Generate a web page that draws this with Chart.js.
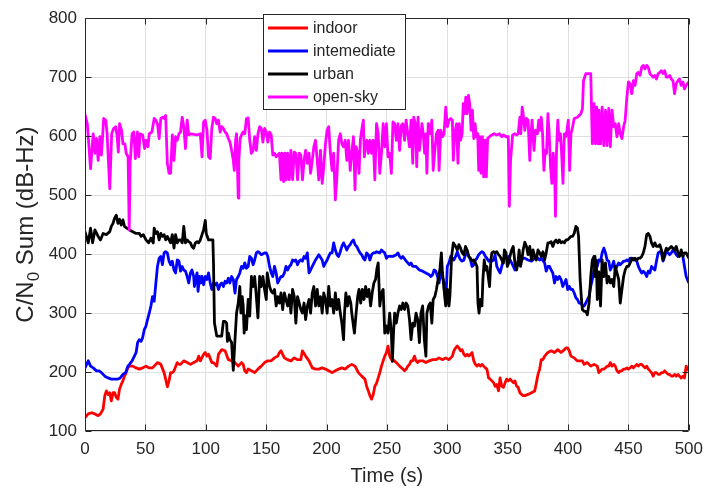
<!DOCTYPE html>
<html>
<head>
<meta charset="utf-8">
<script src="https://cdn.jsdelivr.net/npm/chart.js@4.4.1/dist/chart.umd.min.js"></script>
<style>
  html, body { margin: 0; padding: 0; background: #fff; }
  #wrap { width: 711px; height: 488px; }
</style>
</head>
<body>
<div id="wrap"><canvas id="cn0" width="711" height="488"></canvas></div>
<script>
// --- 1. Data: [time (s), C/N0 sum (dB-Hz)] per environment ---
const indoor = [
  [0,123],[2.7,129],[5.5,131],[8.2,129],[10.9,126],[12.8,129],[15,137],[16.4,160],[17.7,168],[19.1,162],
  [20.5,165],[21.8,151],[23.2,165],[24.5,165],[25.9,157],[27.3,154],[28.6,171],[30,179],[31.4,185],[32.7,193],
  [34.1,199],[35.5,207],[36.8,210],[39.6,210],[42.3,207],[45,205],[47.7,207],[50.5,210],[53.2,207],[55.9,207],
  [60,216],[62.8,213],[65.5,199],[66.8,188],[68.2,175],[69.6,185],[70.9,199],[72.3,199],[73.7,202],[76.4,216],
  [77.8,213],[79.1,213],[81.8,219],[84.6,216],[87.3,213],[90,216],[92.8,219],[94.1,227],[95.5,219],[98.2,230],
  [99.6,233],[101,227],[102.3,230],[105,216],[106.4,216],[107.8,213],[109.1,210],[110.5,230],[113.2,238],[116,236],
  [118.7,221],[121.4,219],[124.2,216],[126.9,210],[129.6,216],[131,213],[132.3,202],[133.7,199],[135.1,205],[137.8,202],
  [140.5,199],[143.2,205],[146,210],[148.7,216],[151.4,219],[154.2,219],[156.9,224],[159.6,227],[161,233],[162.3,236],
  [163.7,230],[165.1,224],[167.8,221],[170.5,219],[173.3,224],[176,221],[178.7,221],
  [180,236],[182.7,227],[185.5,219],[188.2,207],[190.9,205],[193.6,205],[196.4,207],[199.1,205],[201.8,202],[204.6,199],
  [207.3,202],[210,205],[212.7,207],[215.5,205],[218.2,210],[220.9,213],[223.6,210],[226.4,199],[229.1,193],[231.8,188],
  [233.2,176],[234.6,168],[235.9,160],[237.3,154],[238.7,162],[240,176],
  [241.4,181],[242.8,190],[244.1,199],[245.5,210],[246.9,219],[248.2,227],[249.6,233],[250.9,244],[252.3,227],[253.7,221],
  [255,221],[257.8,216],[260.5,210],[263.2,205],[264.6,202],[266,205],[267.3,210],[268.7,213],[270,219],[271.4,219],
  [272.8,227],[274.1,219],[275.5,216],[276.9,219],[279.6,219],[282.3,216],[285,219],[287.8,221],[290.5,221],[293.2,224],
  [296,221],[298.7,224],[301.4,221],
  [302.8,224],[304.2,227],[305.5,236],[306.9,241],[308.3,244],[309.6,241],[311,236],[312.3,238],[313.7,230],[315.1,227],
  [316.4,230],[317.8,227],[319.2,230],[320.5,233],[321.9,219],[323.3,213],[324.6,210],[326,213],[327.4,210],[328.7,213],
  [330.1,210],[331.5,207],[332.8,205],[334.2,190],[335.5,188],[336.9,185],[338.3,182],[339.6,176],[341,179],[342.4,168],
  [343.7,190],[345.1,176],[346.5,174],[347.9,182],[349.2,188],[350.6,185],[352,188],[353.3,185],[354.7,182],[356,185],
  [357.4,176],[358.7,174],[360.1,165],[361.5,162],[362.8,160],
  [364.2,160],[366.9,162],[369.7,165],[372.4,168],[373.8,182],[375.1,196],[376.5,205],[377.8,221],[379.2,221],[380.6,227],
  [381.9,230],[383.3,233],[386,236],[388.8,233],[391.5,238],[394.2,233],[397,238],[398.3,241],[399.7,241],[401,236],
  [402.4,227],[405.1,224],[406.5,221],[407.8,219],[409.2,219],[411.9,219],[413.3,213],[416,216],[418.8,210],[421.5,213],
  [424.2,210],
  [425.5,199],[426.9,202],[428.2,205],[429.6,205],[431,207],[432.3,210],[433.7,210],[435,216],[436.4,210],[437.8,213],
  [439.1,210],[440.5,202],[441.9,199],[443.2,202],[444.6,202],[446,205],[447.3,205],[448.7,207],[450,205],[451.4,207],
  [452.8,210],[454.1,207],[455.5,210],[456.9,213],[458.2,210],[459.6,213],[461,213],[462.3,210],[463.7,207],[465.1,210],
  [466.4,205],[467.8,202],[469.1,199],[470.5,193],[471.9,199],[473.2,199],[474.6,196],[476,196],[477.3,199],[478.7,199],
  [480,202],[481.4,199],[482.8,196],[484.1,196],[485.5,193],[486.9,193],[488.2,196],[489.6,193],[491,196],[492.3,193],
  [493.7,190],[495.1,193],[496.4,190],[497.8,210],[500,202]
];

const intermediate = [
  [0,207],[2.7,219],[4.6,210],[6.8,207],[9.5,202],[11.7,202],[13.6,199],[16.4,193],[19.1,190],[21.8,188],
  [24.5,188],[27.3,188],[29.2,190],[31.4,196],[33.6,199],[35.5,210],[36.8,213],[39,219],[40.9,227],[42.3,233],
  [43.6,250],[45,255],[46.4,252],[47.7,258],[49.1,272],[50.5,278],[51.8,289],[53.2,300],[54.6,312],[55.9,328],
  [57.3,320],[58.7,351],[60,379],[61.4,393],[62.8,396],[64.1,382],[65.5,402],[66.8,404],[68.2,402],[69.6,388],
  [70.9,382],[72.3,388],[73.7,373],[75,368],[76.4,390],[77.8,388],[79.1,371],[80.5,379],[81.8,373],[83.2,371],
  [84.6,362],[85.9,351],[87.3,368],[88.6,373],[90,362],[90.6,345],[91.4,357],[92.8,368],[93.6,337],[94.9,362],
  [96,351],[96.9,362],[98.2,348],[99.6,362],[101,357],[102.3,368],[103.7,351],[105,340],[106.4,351],[107.8,348],
  [109.1,351],[110.5,340],[111.9,348],[113.2,351],[114.6,345],[116,354],[117.3,351],
  [118.7,359],[120,351],[121.4,362],[122.8,357],[124.2,334],[125.5,357],[126.9,362],[128.2,368],[129.6,379],[131,376],
  [132.3,385],[133.7,376],[135.1,379],[136.4,396],[137.8,393],[139.2,382],[140.5,390],[141.9,402],[143.2,404],[144.6,402],
  [146,399],[148.7,402],[150.1,402],[151.4,396],[152.8,379],[154.2,368],[155.5,362],[156.9,379],[158.3,368],[159.6,351],
  [161,357],[162.3,362],[163.7,362],[165.1,368],[166.4,379],[167.8,373],[169.2,379],[170.5,382],[171.9,390],[173.3,388],
  [174.6,390],[176,382],[177.4,388],[178.7,390],
  [180,388],[181.4,396],[182.7,393],[184.1,402],[185.5,368],[186.8,373],[188.2,379],[190.9,390],[193.6,399],[196.4,390],
  [197.7,379],[199.1,385],[200.5,390],[201.8,396],[203.2,402],[204.6,402],[205.9,419],[207.3,407],[208.6,399],[210,396],
  [211.4,404],[212.7,413],[214.1,419],[215.5,413],[216.8,407],[218.2,413],[219.6,416],[220.9,421],[222.3,424],[223.6,416],
  [225,413],[226.4,407],[227.7,402],[229.1,399],[230.5,393],[231.8,390],[233.2,402],[234.6,399],[235.9,390],[237.3,399],
  [238.7,402],[240,402],
  [241.4,404],[244.1,402],[245.5,407],[246.9,404],[248.2,402],[249.6,393],[250.9,396],[252.3,396],[255,396],[257.8,399],
  [259.1,402],[260.5,396],[261.9,393],[263.2,396],[266,388],[268.7,382],[270,385],[271.4,379],[274.1,379],[275.5,376],
  [276.9,373],[279.6,371],[282.3,368],[285,365],[286.4,362],[287.8,365],[289.1,373],[290.5,371],[291.9,362],[293.2,351],
  [294.6,368],[296,362],[297.3,351],[298.7,315],[300,379],[301.4,385],
  [302.8,396],[304.2,393],[305.5,390],[306.9,396],[308.3,404],[309.6,396],[311,390],[312.3,388],[313.7,390],[315.1,399],
  [316.4,402],[317.8,396],[319.2,390],[320.5,379],[321.9,382],[323.3,390],[324.6,393],[326,399],[327.4,402],[328.7,404],
  [330.1,402],[331.5,396],[332.8,393],[334.2,388],[335.5,390],[336.9,388],[338.3,390],[339.6,399],[341,379],[342.4,373],
  [343.7,368],[345.1,379],[346.5,390],[347.9,399],[349.2,393],[350.6,396],[352,390],[353.3,385],[354.7,379],[356,373],
  [357.4,379],[358.7,382],[360.1,388],[361.5,390],[362.8,393],
  [364.2,393],[366.9,390],[369.7,388],[372.4,393],[375.1,393],[376.5,390],[377.8,393],[380.6,385],[381.9,371],[383.3,379],
  [384.7,379],[386,373],[387.4,368],[388.8,351],[390.1,362],[391.5,357],[392.8,362],[394.2,357],[395.6,345],[397,351],
  [398.3,357],[399.7,340],[401,345],[402.4,340],[403.8,340],[405.1,334],[406.5,326],[407.8,323],[409.2,317],[410.6,317],
  [411.9,312],[413.3,312],[414.7,317],[416,323],[417.4,328],[418.8,345],[420.1,357],[421.5,373],[424.2,379],
  [425.5,390],[426.9,388],[428.2,402],[429.6,410],[431,402],[432.3,390],[433.7,388],[435,373],[436.4,379],[437.8,388],
  [439.1,373],[440.5,379],[441.9,385],[443.2,382],[444.6,385],[446,388],[447.3,388],[448.7,390],[450,388],[451.4,393],
  [452.8,390],[454.1,393],[455.5,390],[456.9,388],[458.2,379],[459.6,373],[461,368],[462.3,371],[463.7,368],[465.1,362],
  [466.4,371],[467.8,368],[469.1,379],[470.5,376],[471.9,373],[473.2,388],[474.6,402],[476,404],[477.3,402],[478.7,388],
  [480,396],[481.4,404],[482.8,402],[484.1,399],[485.5,402],[486.9,407],[488.2,404],[489.6,399],[491,396],[492.3,399],
  [493.7,402],[495.1,396],[496.4,379],[497.8,362],[500,351]
];

const urban = [
  [0,438],[2.7,419],[4.6,444],[6.3,419],[8.2,441],[10.9,430],[12.8,424],[15,435],[17.7,433],[20.5,438],
  [21.8,447],[23.2,452],[24.5,461],[25.9,466],[27.3,452],[28.6,459],[30,449],[31.4,458],[32.7,447],[34.6,444],
  [36.8,441],[39.6,438],[42.3,435],[45,435],[46.4,430],[48.3,433],[50.5,424],[52.7,419],[54.6,427],[56.5,419],
  [57.3,444],[58.7,435],[60,438],[61.4,424],[62.8,435],[64.1,430],[65.5,433],[66.8,424],[68.2,430],[69.6,424],
  [70.9,419],[72.3,433],[73.7,410],[75,433],[76.4,419],[77.8,424],[79.1,424],[80.5,419],[81.8,447],[83.2,419],
  [84.6,424],[85.9,421],[87.3,419],[88.6,413],[90,410],[91.4,419],[92.8,421],[94.1,419],[95.5,424],[96.9,433],
  [98.2,441],[99.6,457],[100.4,435],[102.3,424],[103.7,424],[105.9,424],[106.4,385],[107.2,283],[109.1,261],[110.5,261],
  [111.9,261],[113.2,261],[114.6,286],[116,286],[117.3,283],[117.9,252],[118.7,266],[120,255],[121.4,250],[122.2,221],
  [122.8,203],
  [124.2,255],[125.5,300],[126.9,317],[128.2,345],[129.1,300],[130.2,328],[131,312],[131.8,266],[132.9,295],[133.7,272],
  [135.1,323],[136.4,295],[137.8,362],[139.2,345],[140.5,362],[141.9,328],[143.2,292],[144.6,362],[146,345],[147.3,362],
  [148.7,340],[150.1,323],[150.9,368],[152.8,345],[154.2,337],[155.5,334],[156.9,340],[158.3,312],[159.6,328],[161,317],
  [162.3,334],[163.7,306],[165.1,334],[166.4,323],[167.8,312],[169.2,331],[170.5,300],[171.9,340],[173.3,328],[174.6,283],
  [176,328],[177.4,317],[178.7,306],
  [180,300],[181.4,317],[182.7,289],[184.1,312],[185.5,323],[186.8,300],[188.2,334],[189.5,345],[190.9,312],[192.3,340],
  [193.6,312],[195,328],[196.4,300],[197.7,334],[199.1,323],[200.5,300],[201.8,345],[203.2,312],[204.6,323],[205.9,300],
  [207.3,334],[208.6,306],[210,323],[211.4,300],[212.7,283],[214.1,255],[214.9,300],[216,334],[217.4,312],[218.7,328],
  [220.1,317],[220.9,300],[222.3,278],[223.1,266],[224.5,300],[225.8,328],[226.9,340],[228.3,317],[229.6,340],[231,323],
  [232.4,345],[233.7,328],[235.1,340],[236.5,312],[237.8,334],[239.2,351],[240.6,357],
  [241.7,375],[242.8,385],[244.1,312],[245.5,334],[246.9,340],[248.2,266],[249.6,278],[250.9,266],[252.3,300],[253.7,266],
  [254.5,218],[255.6,272],[256.4,300],[257.8,283],[259.1,300],[260.5,312],[261.9,306],[263.2,317],[264.6,306],[265.9,317],
  [267.3,312],[268.7,289],[270,255],[271.4,283],[272.8,278],[274.1,300],[275.5,289],[276.9,250],[278.2,300],[279.6,312],
  [281,255],[282.3,227],[283.1,300],[284.5,312],[285.9,317],[287.2,283],[288.3,323],[289.7,328],[291,340],[292.4,357],
  [293.8,373],[295.1,402],[296,368],[297.3,340],[298.7,312],[300.1,340],[301.4,312],[302.2,330],
  [303.6,396],[305,419],[306.9,413],[308.3,407],[309.6,416],[311,410],[312.3,402],[313.7,399],[315.1,413],[316.4,407],
  [317.8,396],[319.2,393],[320.5,388],[321.9,390],[323.3,385],[324.6,379],[325.4,317],[326.3,300],[327.4,323],[328.7,312],
  [329.5,357],[330.6,390],[331.7,373],[332.8,379],[334.2,357],[335,345],[336.1,390],[336.9,402],[338.3,404],[339.6,402],
  [341,404],[342.4,399],[343.7,396],[345.1,390],[346.5,385],[347.3,407],[348.6,402],[349.7,379],[350.8,385],[351.9,396],
  [353.3,407],[354.6,413],[356,385],[357.4,373],[358.7,390],[359.5,407],[360.6,379],[361.7,390],[362.8,407],
  [364.2,420],[365.6,413],[366.9,399],[368.3,413],[369.7,390],[371,407],[372.4,396],[373.7,390],[375.1,407],[376.5,402],
  [377.8,396],[379.2,404],[380.6,390],[381.9,402],[383.3,419],[384.7,419],[386,421],[387.4,413],[388.8,421],[390.1,424],
  [391.5,419],[392.8,424],[394.2,419],[395.6,421],[397,419],[398.3,424],[399.7,424],[401,427],[402.4,430],[403.8,430],
  [405.1,435],[406.5,447],[407.8,444],[408.7,430],[410,357],[411.1,323],[411.9,306],[413.3,303],[414.7,303],[416,297],
  [417.4,317],[418.8,362],[420.1,390],[421.5,396],[422.3,362],[423.4,390],[424.2,323],
  [425.5,370],[426.9,312],[428.2,390],[429.6,362],[431,385],[432.3,351],[433.7,362],[435,351],[436.4,357],[437.8,345],
  [439.1,379],[440.5,368],[441.9,357],[443.2,317],[444.6,340],[446,362],[447.3,373],[448.7,379],[450,379],[451.4,385],
  [452.8,393],[454.1,390],[455.5,393],[456.9,390],[458.2,393],[459.6,393],[461,396],[462.3,402],[463.7,413],[465.1,433],
  [466.4,435],[467.8,430],[469.1,419],[470.5,413],[471.9,419],[473.2,413],[474.6,413],[476,416],[477.3,407],[478.7,390],
  [480,402],[481.4,410],[482.8,407],[484.1,410],[485.5,413],[486.9,410],[488.2,407],[489.6,413],[491,402],[492.3,396],
  [493.7,407],[495.1,396],[496.4,402],[497.8,402],[500,393]
];

const openSky = [
  [0,637],[1.9,621],[4.6,545],[6.8,604],[8.2,571],[9.5,596],[10.9,559],[12.3,599],[13.6,568],[15.5,630],
  [17.2,627],[18.3,604],[20.5,511],[22.1,604],[23.7,613],[25.4,616],[26.5,602],[27.6,573],[28.6,621],[30.3,610],
  [31.4,587],[33,587],[34.1,571],[35.7,565],[36.6,441],[37.4,554],[39,604],[40.4,607],[41.7,562],[43.4,607],
  [44.5,565],[45.6,604],[47.7,602],[49.4,579],[50.5,593],[52.1,582],[53.2,604],[55.4,607],
  [57.3,630],[58.7,627],[60,621],[61.4,596],[62.8,630],[64.1,632],[65.5,630],[66.8,635],[68.2,554],[69.6,537],
  [70.9,537],[72.3,602],[73.7,559],[75,599],[76.4,593],[77.8,604],[79.1,607],[80.5,632],[81.8,616],[83.2,579],
  [84.6,627],[85.9,602],[87.3,604],[90,603],[92.8,602],[95.5,604],[96.9,565],[98.2,624],[99.6,627],[101,610],
  [102.3,565],[103.7,562],[105,613],[106.4,632],[107.8,630],[109.1,621],[110.5,627],[111.9,607],[113.2,616],[114.6,613],
  [116,607],[117.3,604],
  [118.7,596],[120,590],[121.4,576],[122.8,559],[123.6,542],[124.7,593],[125.5,604],[126.9,495],[127.4,559],[128.5,596],
  [129.6,602],[131,607],[132.3,604],[133.7,630],[135.1,631],[136.4,593],[137.8,571],[139.2,576],[140.5,599],[141.9,576],
  [143.2,604],[144.6,616],[146,613],[147.3,590],[148.7,613],[150.1,607],[151.4,590],[152.8,607],[154.2,602],[155.5,568],
  [156.9,571],[158.3,565],[159.6,568],[161,571],[162.3,526],[163.2,571],[164.5,523],[165.6,571],[166.7,526],[167.8,571],
  [169.2,526],[170.5,576],[171.9,526],[173.3,573],[174.6,571],[176,526],[177.4,571],[178.7,568],
  [180.1,526],[181.4,559],[182.7,576],[184.1,554],[185.5,571],[186.8,537],[188.2,559],[189.5,582],[190.9,593],[192.3,559],
  [193.6,526],[195,576],[196.4,520],[197.7,548],[199.1,587],[200.5,610],[201.8,616],[203.2,571],[204.6,542],[205.9,571],
  [207.3,492],[208.6,531],[210,593],[211.4,604],[212.7,587],[214.1,582],[215.5,593],[216.8,559],[218.2,593],[219.6,542],
  [220.9,571],[222.3,599],[223.6,509],[224.5,582],[225.8,571],[226.9,537],[228,593],[229.1,610],[230.5,627],[231.3,565],
  [232.4,587],[233.5,593],[234.6,571],[236,593],[237.3,571],[238.7,593],[240,526],
  [241.4,621],[242.8,604],[244.1,537],[245.5,571],[246.9,621],[248.2,582],[249.6,621],[250.9,565],[252.3,571],[253.7,537],
  [255,624],[256.4,621],[257.8,593],[259.1,621],[260.5,576],[261.9,618],[263.2,621],[264.6,593],[265.9,627],[267.3,604],
  [268.7,582],[270,627],[271.4,554],[272.2,632],[273.6,621],[274.7,548],[275.8,632],[276.9,576],[278,599],[279,621],
  [280.1,604],[281.2,571],[282.3,604],[283.1,537],[284.2,621],[285.6,604],[287.2,627],[288.3,542],[289.7,576],[291,604],
  [292.4,610],[293.2,542],[294.6,610],[296,599],[297.3,604],[298.7,649],[300.1,616],[301.4,627],
  [302.8,630],[304.2,627],[305,559],[306.1,604],[307.7,621],[308.8,554],[309.9,621],[311,593],[312.3,604],[313.2,655],
  [314.3,638],[315.3,666],[316.4,638],[317.5,669],[318.6,655],[319.7,610],[320.8,644],[321.9,596],[323,621],[324.1,599],
  [325.2,604],[326,542],[326.8,599],[327.9,537],[329,599],[330.1,531],[331.2,593],[332.3,531],[333.4,596],[335,599],
  [336.9,602],[338.8,604],[341,602],[343.2,604],[345.1,599],[346.5,602],[348.6,599],[350.5,599],[351.4,481],[352.4,559],
  [354.1,602],[356,604],[357.4,602],[358.7,604],[360.1,632],[360.9,604],[362,649],[362.8,638],
  [364.2,610],[365.6,630],[366.9,627],[368.3,559],[369.1,599],[370.2,627],[371.8,576],[372.9,610],[374.6,604],[375.7,627],
  [376.7,610],[377.8,632],[378.9,604],[380,542],[381.1,576],[382.2,571],[383.3,638],[384.4,604],[385.5,548],[386.6,520],
  [387.7,571],[388.8,548],[389.6,464],[390.4,571],[391.5,627],[392.6,593],[393.7,604],[394.8,565],[395.8,520],[396.9,604],
  [398,599],[399.1,610],[400.2,627],[401.3,542],[402.4,604],[403.8,616],[405.1,630],[407.8,632],[410.6,638],[411.9,646],
  [412.8,694],[414.7,706],[417.4,706],[418.8,706],[420.1,587],[421.5,655],[422.6,587],[423.7,649],[424.8,587],
  [425.5,644],[426.9,587],[428.2,649],[429.6,584],[431,644],[432.3,584],[433.7,647],[435,582],[436.4,644],[437.8,616],
  [439.1,621],[440.5,599],[441.9,621],[443.2,604],[444.6,596],[446,616],[447.3,627],[448.7,666],[450,692],[451.4,689],
  [452.8,672],[454.1,694],[455.5,686],[456.9,706],[458.2,708],[459.6,703],[461,717],[462.3,720],[463.7,714],[465.1,720],
  [466.4,717],[467.8,706],[469.1,703],[470.5,700],[471.9,703],[473.2,697],[474.6,706],[476,708],[477.3,711],[478.7,706],
  [480,711],[481.4,700],[482.8,700],[484.1,703],[485.5,697],[486.9,694],[488.2,672],[489.6,689],[491,694],[492.3,697],
  [493.7,686],[495.1,692],[496.4,680],[497.8,686],[500,692]
];

const seriesNames = ["indoor", "intemediate", "urban", "open-sky"];
const seriesColors = ["#ff0000", "#0000ff", "#000000", "#ff00ff"];
const xTickValues = [0, 50, 100, 150, 200, 250, 300, 350, 400, 450, 500];
const yTickValues = [100, 200, 300, 400, 500, 600, 700, 800];

// --- 2. Styling ---
const FONT = "'Liberation Sans', Arial, Helvetica, sans-serif";
const INK = "#262626";
const LINE_W = 2.8;

// axes box with inward ticks on all four sides
const framePlugin = {
  id: "frame",
  afterDatasetsDraw(chart) {
    const { ctx, chartArea: a, scales: { x, y } } = chart;
    const L = Math.round(a.left) + 0.5, R = Math.round(a.right) - 0.5;
    const T = Math.round(a.top) + 0.5, B = Math.round(a.bottom) - 0.5;
    const tick = 6;
    ctx.save();
    ctx.strokeStyle = INK;
    ctx.lineWidth = 1;
    ctx.beginPath();
    ctx.rect(L, T, R - L, B - T);
    xTickValues.forEach(v => {
      const px = Math.round(x.getPixelForValue(v)) + 0.5;
      ctx.moveTo(px, B); ctx.lineTo(px, B - tick);
      ctx.moveTo(px, T); ctx.lineTo(px, T + tick);
    });
    yTickValues.forEach(v => {
      const py = Math.round(y.getPixelForValue(v)) + 0.5;
      ctx.moveTo(L, py); ctx.lineTo(L + tick, py);
      ctx.moveTo(R, py); ctx.lineTo(R - tick, py);
    });
    ctx.stroke();
    ctx.restore();
  }
};

// boxed legend in the upper middle of the axes
const legendPlugin = {
  id: "boxLegend",
  afterDraw(chart) {
    const { ctx } = chart;
    const box = { x: 263, y: 14, w: 142, h: 95 };
    ctx.save();
    ctx.fillStyle = "#fff";
    ctx.fillRect(box.x, box.y, box.w, box.h);
    ctx.strokeStyle = INK;
    ctx.lineWidth = 1;
    ctx.strokeRect(box.x + 0.5, box.y + 0.5, box.w, box.h);
    ctx.font = "16px " + FONT;
    ctx.textBaseline = "middle";
    seriesNames.forEach((name, i) => {
      const cy = box.y + 14 + i * 23;
      ctx.strokeStyle = seriesColors[i];
      ctx.lineWidth = LINE_W;
      ctx.beginPath();
      ctx.moveTo(box.x + 5, cy);
      ctx.lineTo(box.x + 45, cy);
      ctx.stroke();
      ctx.fillStyle = INK;
      ctx.fillText(name, box.x + 50, cy + 1);
    });
    ctx.restore();
  }
};

// axis titles, the y one carries a subscript zero
const titlesPlugin = {
  id: "axisTitles",
  afterDraw(chart) {
    const { ctx, chartArea: a } = chart;
    ctx.save();
    ctx.fillStyle = INK;
    ctx.textBaseline = "alphabetic";

    ctx.font = "20px " + FONT;
    ctx.textAlign = "center";
    ctx.fillText("Time (s)", (a.left + a.right) / 2, 482);

    const big = "24px " + FONT, small = "17px " + FONT;
    const parts = [["C/N", big, 0], ["0", small, 6], [" Sum (dB-Hz)", big, 0]];
    let total = 0;
    parts.forEach(p => { ctx.font = p[1]; total += ctx.measureText(p[0]).width; });
    ctx.translate(33, (a.top + a.bottom) / 2);
    ctx.rotate(-Math.PI / 2);
    ctx.textAlign = "left";
    let cx = -total / 2;
    parts.forEach(p => {
      ctx.font = p[1];
      ctx.fillText(p[0], cx, p[2]);
      cx += ctx.measureText(p[0]).width;
    });
    ctx.restore();
  }
};

// --- 3. Chart ---
const datasets = [indoor, intermediate, urban, openSky].map((series, i) => ({
  label: seriesNames[i],
  data: series.map(([t, v]) => ({ x: t, y: v })),
  borderColor: seriesColors[i],
  backgroundColor: seriesColors[i],
  borderWidth: LINE_W,
  borderJoinStyle: "round",
  pointRadius: 0,
  tension: 0,
  order: 4 - i   // later series on top
}));

new Chart(document.getElementById("cn0"), {
  type: "line",
  data: { datasets },
  options: {
    responsive: false,
    animation: false,
    devicePixelRatio: 1,
    layout: { padding: { top: 15, right: 14, left: 0, bottom: 0 } },
    plugins: { legend: { display: false }, tooltip: { enabled: false } },
    scales: {
      x: {
        type: "linear",
        min: 0, max: 500,
        afterBuildTicks: axis => { axis.ticks = xTickValues.map(v => ({ value: v })); },
        afterFit: axis => { axis.height = 57; },
        ticks: { color: INK, font: { family: FONT, size: 17 }, padding: 8, maxRotation: 0 },
        grid: { color: "#dfdfdf", lineWidth: 1, drawTicks: false },
        border: { display: false }
      },
      y: {
        type: "linear",
        min: 100, max: 800,
        afterBuildTicks: axis => { axis.ticks = yTickValues.map(v => ({ value: v })); },
        afterFit: axis => { axis.width = 85; },
        ticks: { color: INK, font: { family: FONT, size: 17 }, padding: 8 },
        grid: { color: "#dfdfdf", lineWidth: 1, drawTicks: false },
        border: { display: false }
      }
    }
  },
  plugins: [framePlugin, legendPlugin, titlesPlugin]
});
</script>
</body>
</html>
